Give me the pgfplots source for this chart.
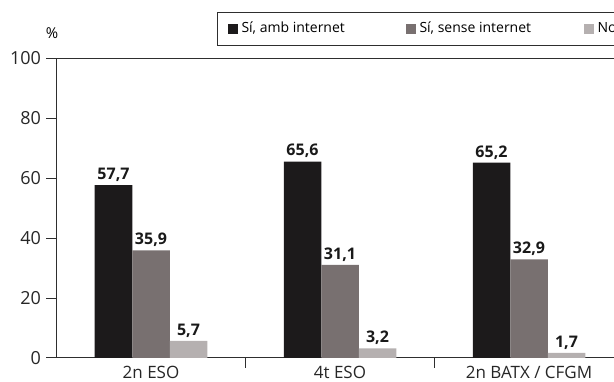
\documentclass[border=0pt]{standalone}
\usepackage{pgfplots}
\pgfplotsset{compat=1.18}
\usepackage{fontspec}
\setmainfont{Open Sans}
\definecolor{c1}{HTML}{1C1A1B}
\definecolor{c2}{HTML}{787070}
\definecolor{c3}{HTML}{B5B0B0}
\definecolor{axc}{HTML}{2E2E2E}
\pgfplotsset{myleg/.style={legend image code/.code={\fill[##1,draw=none] (0pt,-5pt) rectangle (10pt,5pt);}}}
\begin{document}
\begin{tikzpicture}
\useasboundingbox (0pt,0pt) rectangle (614pt,382pt);
\begin{axis}[
  at={(56.5pt,24pt)}, anchor=south west,
  scale only axis, width=567pt, height=299.5pt,
  xmin=-0.5, xmax=2.5, ymin=0, ymax=100,
  ybar=0pt, bar width=37.5pt,
  axis line style={draw=axc, line width=1pt},
  tick align=outside, tick pos=left,
  major tick length=10pt,
  tick style={draw=axc, line width=1pt},
  ytick={0,20,...,100},
  xtick={0.5,1.5}, xticklabels={},
  extra x ticks={0,1,2},
  extra x tick labels={2n ESO,4t ESO,2n BATX / CFGM},
  extra x tick style={major tick length=0pt},
  /pgf/number format/assume math mode=true,
  tick label style={font=\fontsize{18}{20}\selectfont, text=black!85},
  yticklabel style={font=\fontsize{18}{20}\selectfont, xshift=-2pt},
  xticklabel style={font=\fontsize{17}{20}\selectfont, yshift=-5pt},
  every axis y label/.style={at={(axis description cs:-0.008,1.085)}, anchor=center, font=\fontsize{15}{17}\selectfont},
  ylabel={\%},
  nodes near coords={\pgfmathprintnumber[fixed,fixed zerofill,precision=1,use comma,assume math mode=true]{\pgfplotspointmeta}},
  nodes near coords style={font=\bfseries\fontsize{16}{18}\selectfont, text=black!90},
  legend columns=3,
  legend style={at={(axis description cs:0.2831,1.1553)}, anchor=north west,
    draw=axc, line width=1pt, inner xsep=10pt, inner ysep=10pt,
    /tikz/column sep=4pt,
    nodes={inner sep=0pt, text height=10pt, text depth=3pt, font=\fontsize{14}{16}\selectfont}},
  legend cell align=left,
]
\addplot[fill=c1, draw=none, myleg] coordinates {(0,57.7) (1,65.6) (2,65.2)};
\addlegendentry{\makebox[160pt][l]{Sí, amb internet}}
\addplot[fill=c2, draw=none, myleg] coordinates {(0,35.9) (1,31.1) (2,32.9)};
\addlegendentry{\makebox[160pt][l]{Sí, sense internet}}
\addplot[fill=c3, draw=none, myleg] coordinates {(0,5.7) (1,3.2) (2,1.7)};
\addlegendentry{\makebox[160pt][l]{No}}
\end{axis}
\end{tikzpicture}
\end{document}
